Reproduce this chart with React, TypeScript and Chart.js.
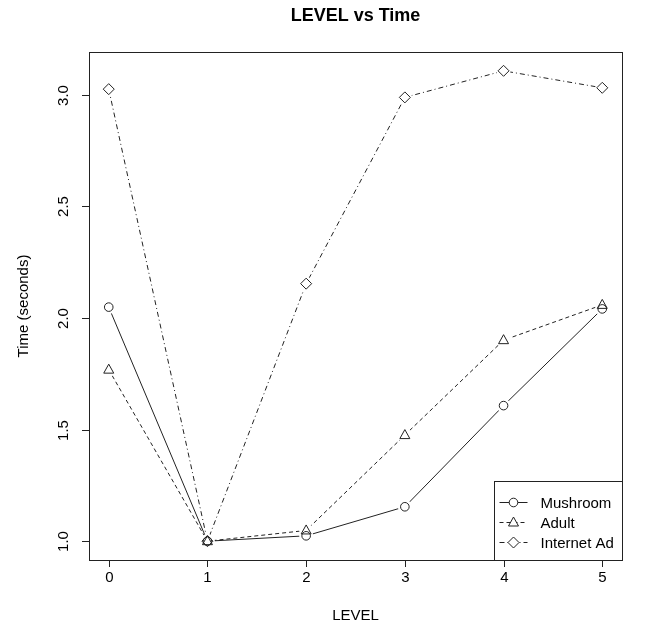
import React, { useEffect, useRef } from "react";
import { Chart, registerables } from "chart.js";

Chart.register(...registerables);

const levels = [0, 1, 2, 3, 4, 5];
const mushroom = [2.048, 1.0, 1.024, 1.154, 1.607, 2.04];
const adult = [1.768, 1.0, 1.048, 1.475, 1.9, 2.058];
const internetAd = [3.024, 1.0, 2.153, 2.987, 3.106, 3.03];
const xTicks = [0, 1, 2, 3, 4, 5];
const yTicks = [1.0, 1.5, 2.0, 2.5, 3.0];
const seriesNames = ["Mushroom", "Adult", "Internet Ad"];

const FONT = '"Liberation Sans", Arial, Helvetica, sans-serif';
const INK = "#222";

const dashes: number[][] = [[], [4, 3], [5, 3, 1, 3]];
const styles = ["circle", "triangle", "diamond"];

function drawSymbol(ctx: CanvasRenderingContext2D, style: string, x: number, y: number, fill: boolean) {
  ctx.save();
  ctx.setLineDash([]);
  ctx.fillStyle = "#fff";
  ctx.strokeStyle = INK;
  ctx.lineWidth = 1;
  ctx.beginPath();
  if (style === "circle") {
    ctx.arc(x, y, 4.3, 0, Math.PI * 2);
  } else if (style === "triangle") {
    ctx.moveTo(x, y - 5.5);
    ctx.lineTo(x + 5, y + 3.5);
    ctx.lineTo(x - 5, y + 3.5);
    ctx.closePath();
  } else {
    ctx.moveTo(x, y - 5.5);
    ctx.lineTo(x + 5.5, y);
    ctx.lineTo(x, y + 5.5);
    ctx.lineTo(x - 5.5, y);
    ctx.closePath();
  }
  if (fill) ctx.fill();
  ctx.stroke();
  ctx.restore();
}

const framePlugin = {
  id: "rframe",
  afterDatasetsDraw(chart: any) {
    const { ctx } = chart;
    const metas = [0, 1, 2].map((i) => chart.getDatasetMeta(i));
    ctx.save();
    ctx.fillStyle = "#fff";
    metas.forEach((m: any) => {
      m.data.forEach((p: any) => {
        ctx.beginPath();
        ctx.arc(p.x, p.y, 7, 0, Math.PI * 2);
        ctx.fill();
      });
    });
    ctx.restore();
    metas.forEach((m: any, i: number) => {
      m.data.forEach((p: any) => drawSymbol(ctx, styles[i], p.x, p.y, false));
    });
  },
  afterDraw(chart: any) {
    const { ctx, chartArea: a, scales } = chart;
    const xs = scales.x;
    const ys = scales.y;
    ctx.save();
    ctx.strokeStyle = INK;
    ctx.fillStyle = "#000";
    ctx.lineWidth = 1;
    ctx.setLineDash([]);
    // box
    ctx.strokeRect(Math.round(a.left) + 0.5, Math.round(a.top) + 0.5, Math.round(a.right - a.left), Math.round(a.bottom - a.top));
    // x ticks
    ctx.font = `15px ${FONT}`;
    ctx.textAlign = "center";
    ctx.textBaseline = "alphabetic";
    xTicks.forEach((t) => {
      const px = Math.round(xs.getPixelForValue(t)) + 0.5;
      ctx.beginPath();
      ctx.moveTo(px, a.bottom);
      ctx.lineTo(px, a.bottom + 7);
      ctx.stroke();
      ctx.fillText(String(t), px, a.bottom + 22);
    });
    // y ticks
    yTicks.forEach((t) => {
      const py = Math.round(ys.getPixelForValue(t)) + 0.5;
      ctx.beginPath();
      ctx.moveTo(a.left, py);
      ctx.lineTo(a.left - 7, py);
      ctx.stroke();
      ctx.save();
      ctx.translate(a.left - 21, py);
      ctx.rotate(-Math.PI / 2);
      ctx.fillText(t.toFixed(1), 0, 0);
      ctx.restore();
    });
    // axis titles
    ctx.fillText("LEVEL", (a.left + a.right) / 2, a.bottom + 60);
    ctx.save();
    ctx.translate(a.left - 61, (a.top + a.bottom) / 2);
    ctx.rotate(-Math.PI / 2);
    ctx.fillText("Time (seconds)", 0, 0);
    ctx.restore();
    // main title
    ctx.font = `bold 18px ${FONT}`;
    ctx.fillText("LEVEL vs Time", (a.left + a.right) / 2, 21);
    // legend
    const lx = Math.round(xs.getPixelForValue(4) - 10) + 0.5;
    const ly = Math.round(a.bottom - 79) + 0.5;
    const lw = Math.round(a.right) + 0.5 - lx;
    const lh = Math.round(a.bottom) + 0.5 - ly;
    ctx.fillStyle = "#fff";
    ctx.fillRect(lx, ly, lw, lh);
    ctx.strokeRect(lx, ly, lw, lh);
    ctx.font = `15px ${FONT}`;
    ctx.textAlign = "left";
    ctx.textBaseline = "middle";
    seriesNames.forEach((name, i) => {
      const cy = Math.round(ly + 20 + i * 20) + 0.5;
      ctx.save();
      ctx.setLineDash(dashes[i]);
      ctx.strokeStyle = INK;
      ctx.beginPath();
      ctx.moveTo(lx + 5, cy);
      ctx.lineTo(lx + 33, cy);
      ctx.stroke();
      ctx.restore();
      drawSymbol(ctx, styles[i], lx + 19, cy, true);
      ctx.fillStyle = "#000";
      ctx.fillText(name, lx + 46, cy + 1);
    });
    ctx.restore();
  },
};

export default function App() {
  const ref = useRef<HTMLCanvasElement>(null);
  useEffect(() => {
    if (!ref.current) return;
    const series = [mushroom, adult, internetAd];
    const chart = new Chart(ref.current, {
      type: "line",
      data: {
        datasets: series.map((vals, i) => ({
          label: seriesNames[i],
          data: levels.map((lv, j) => ({ x: lv, y: vals[j] })),
          borderColor: INK,
          borderWidth: 1,
          borderDash: dashes[i],
          pointRadius: 0,
          tension: 0,
          fill: false,
        })),
      },
      options: {
        animation: false,
        responsive: false,
        devicePixelRatio: 1,
        layout: { padding: { top: 52, right: 30, left: 0, bottom: 0 } },
        plugins: { legend: { display: false }, title: { display: false }, tooltip: { enabled: false } },
        scales: {
          x: {
            type: "linear",
            min: -0.2,
            max: 5.2,
            grid: { display: false },
            border: { display: false },
            ticks: { display: false },
            afterFit: (s: any) => { s.height = 66; },
          },
          y: {
            type: "linear",
            min: 0.9157,
            max: 3.1903,
            grid: { display: false },
            border: { display: false },
            ticks: { display: false },
            afterFit: (s: any) => { s.width = 89; },
          },
        },
      },
      plugins: [framePlugin],
    });
    return () => chart.destroy();
  }, []);
  return (
    <div style={{ position: "fixed", left: 0, top: 0, width: 652, height: 626, background: "#fff" }}>
      <canvas ref={ref} width={652} height={626} style={{ width: 652, height: 626, display: "block" }} />
    </div>
  );
}
